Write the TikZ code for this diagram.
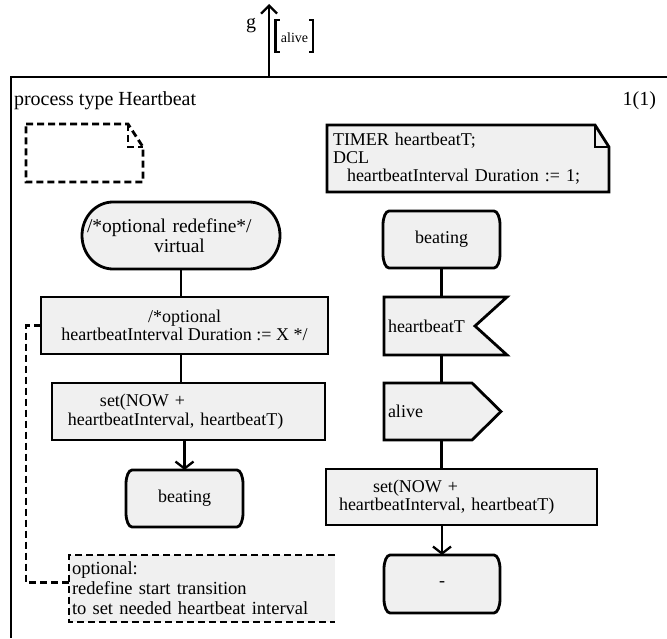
\documentclass[tikz,border=0pt]{standalone}
\usepackage{fontspec}
\setmainfont{Liberation Serif}
\usetikzlibrary{arrows.meta,backgrounds}
\definecolor{symfill}{RGB}{240,240,240}
\tikzset{
  box/.style={rectangle, inner sep=0pt, outer sep=0pt, font=\fontsize{18bp}{18.5bp}\selectfont},
  taskbox/.style={box, draw, fill=symfill, line width=2.8bp},
  flow/.style={line width=2.8bp},
  flowarrow/.style={flow, -{Straight Barb[length=7bp, width=18bp, line width=2.3bp]}},
  dashline/.style={line width=2.8bp, dash pattern=on 7bp off 4bp},
  shapeline/.style={line width=2.8bp, fill=symfill},
}
% SDL state outline: rectangle with curved left and right sides
\def\sdlstate#1#2#3#4{%
  \draw[shapeline] ({#1+6},#2) -- ({#3-6},#2)
    arc[start angle=-90, end angle=0, x radius=6, y radius=14] -- (#3,{#4-14})
    arc[start angle=0, end angle=90, x radius=6, y radius=14] -- ({#1+6},#4)
    arc[start angle=90, end angle=180, x radius=6, y radius=14] -- (#1,{#2+14})
    arc[start angle=180, end angle=270, x radius=6, y radius=14] -- cycle;}
\begin{document}
\begin{tikzpicture}[x=1bp, y=-1bp]
\useasboundingbox (0,0) rectangle (667,639);

% diagram frame
\draw[flow] (667,77) -- (11,77) -- (11,638);

% gate g with signal list
\coordinate (gate) at (269,77);
\coordinate (gatetip) at (269,4);
\draw[flow, -{Straight Barb[length=8bp, width=16bp, line width=2.3bp]}] (gate) -- (gatetip);
\node[box, font=\fontsize{20bp}{20bp}\selectfont, anchor=base] (gname) at (251,29) {g};
\node[box, font=\fontsize{14bp}{14bp}\selectfont, anchor=base] (siglist) at (294.5,43) {alive};
\draw[flow] (279.5,20) -- (275.5,20) -- (275.5,52) -- (279.5,52);
\draw[flow] (309,20) -- (313,20) -- (313,52) -- (309,52);

% heading
\node[box, font=\fontsize{20bp}{20bp}\selectfont, anchor=base west] (title) at (14,106) {process type Heartbeat};
\node[box, font=\fontsize{20bp}{20bp}\selectfont, anchor=base east] (pageno) at (656,106) {1(1)};

% empty text symbol
\node[box, minimum width=117bp, minimum height=58bp, anchor=north west] (emptytext) at (26,124) {};
\draw[dashline] (26,124) -- (128,124) -- (143,147) -- (143,182) -- (26,182) -- cycle;
\draw[dashline] (128,124) -- (128,147) -- (143,147);

% declarations
\node[box, inner xsep=6bp, text width=270bp, minimum height=67bp, align=left, anchor=north west, font=\fontsize{18bp}{18bp}\selectfont] (decl) at (327,125)
  {TIMER heartbeatT;\\DCL\\\hspace*{14bp}heartbeatInterval Duration := 1;};

% left branch: start transition
\node[box, minimum width=196bp, minimum height=67bp, text width=196bp, align=left, font=\fontsize{19.5bp}{20bp}\selectfont] (start) at (181,235.5)
  {\hspace*{4bp}/*optional redefine*/\\\hspace*{71bp}virtual};
\node[taskbox, minimum width=287bp, minimum height=57bp, align=center] (task1) at (184.5,325.5)
  {/*optional\\heartbeatInterval Duration := X */};
\node[taskbox, minimum width=273bp, minimum height=57bp, text width=273bp, align=left] (task2) at (188.5,411.5)
  {\hspace*{48bp}set(NOW +\\\hspace*{16bp}heartbeatInterval, heartbeatT)};
\node[box, minimum width=117bp, minimum height=57bp] (wait1) at (184.5,498.5) {beating};

% right branch: periodic transition
\node[box, minimum width=117bp, minimum height=57bp] (wait2) at (441.5,239.5) {beating};
\node[box, inner xsep=4bp, text width=115bp, minimum height=58bp, align=left] (inp) at (445.5,326) {heartbeatT};
\node[box, inner xsep=4bp, text width=109bp, minimum height=57bp, align=left] (outp) at (442.5,411.5) {alive};
\node[taskbox, minimum width=271bp, minimum height=56bp, text width=271bp, align=left] (task3) at (461.5,497)
  {\hspace*{47bp}set(NOW +\\\hspace*{13bp}heartbeatInterval, heartbeatT)};
\node[box, minimum width=116bp, minimum height=58bp] (last) at (442,584) {-};

% comment, open on its right side
\node[box, fill=symfill, inner xsep=3bp, inner ysep=3bp, text width=260bp, minimum height=67bp, align=left, anchor=north west, font=\fontsize{18.5bp}{20bp}\selectfont] (note) at (69,555)
  {optional:\\redefine start transition\\to set needed heartbeat interval};
\draw[dashline] (note.north east) -- (note.north west) -- (note.south west) -- (note.south east);

% symbol outlines behind the texts
\begin{scope}[on background layer]
  \draw[shapeline] (327,125) -- (595,125) -- (609,147) -- (609,192) -- (327,192) -- cycle;
  \draw[flow] (595,125) -- (595,147) -- (609,147);
  \draw[shapeline] (113,202) -- (249,202)
    arc[start angle=-90, end angle=90, x radius=31, y radius=33.5] -- (113,269)
    arc[start angle=90, end angle=270, x radius=31, y radius=33.5] -- cycle;
  \sdlstate{126}{470}{243}{527}
  \sdlstate{383}{211}{500}{268}
  \sdlstate{384}{555}{500}{613}
  \draw[shapeline] (384,297) -- (507,297) -- (475,326) -- (507,355) -- (384,355) -- cycle;
  \draw[shapeline] (384,383) -- (472,383) -- (501,411.5) -- (472,440) -- (384,440) -- cycle;
\end{scope}

% flow lines
\draw[flow] (start.south) -- (start.south |- task1.north);
\draw[flow] (task1.south -| start.south) -- (start.south |- task2.north);
\draw[flowarrow] (task2.south -| wait1.north) -- (wait1.north);
\draw[flow] (wait2.south) -- (wait2.south |- inp.north);
\draw[flow] (inp.south -| wait2.south) -- (wait2.south |- outp.north);
\draw[flow] (outp.south -| wait2.south) -- (wait2.south |- task3.north);
\draw[flowarrow] (task3.south -| last.north) -- (last.north);

% comment attachment
\draw[dashline] (task1.west) -- ++(-15,0) |- ([yshift=6bp]note.west);
\end{tikzpicture}
\end{document}
